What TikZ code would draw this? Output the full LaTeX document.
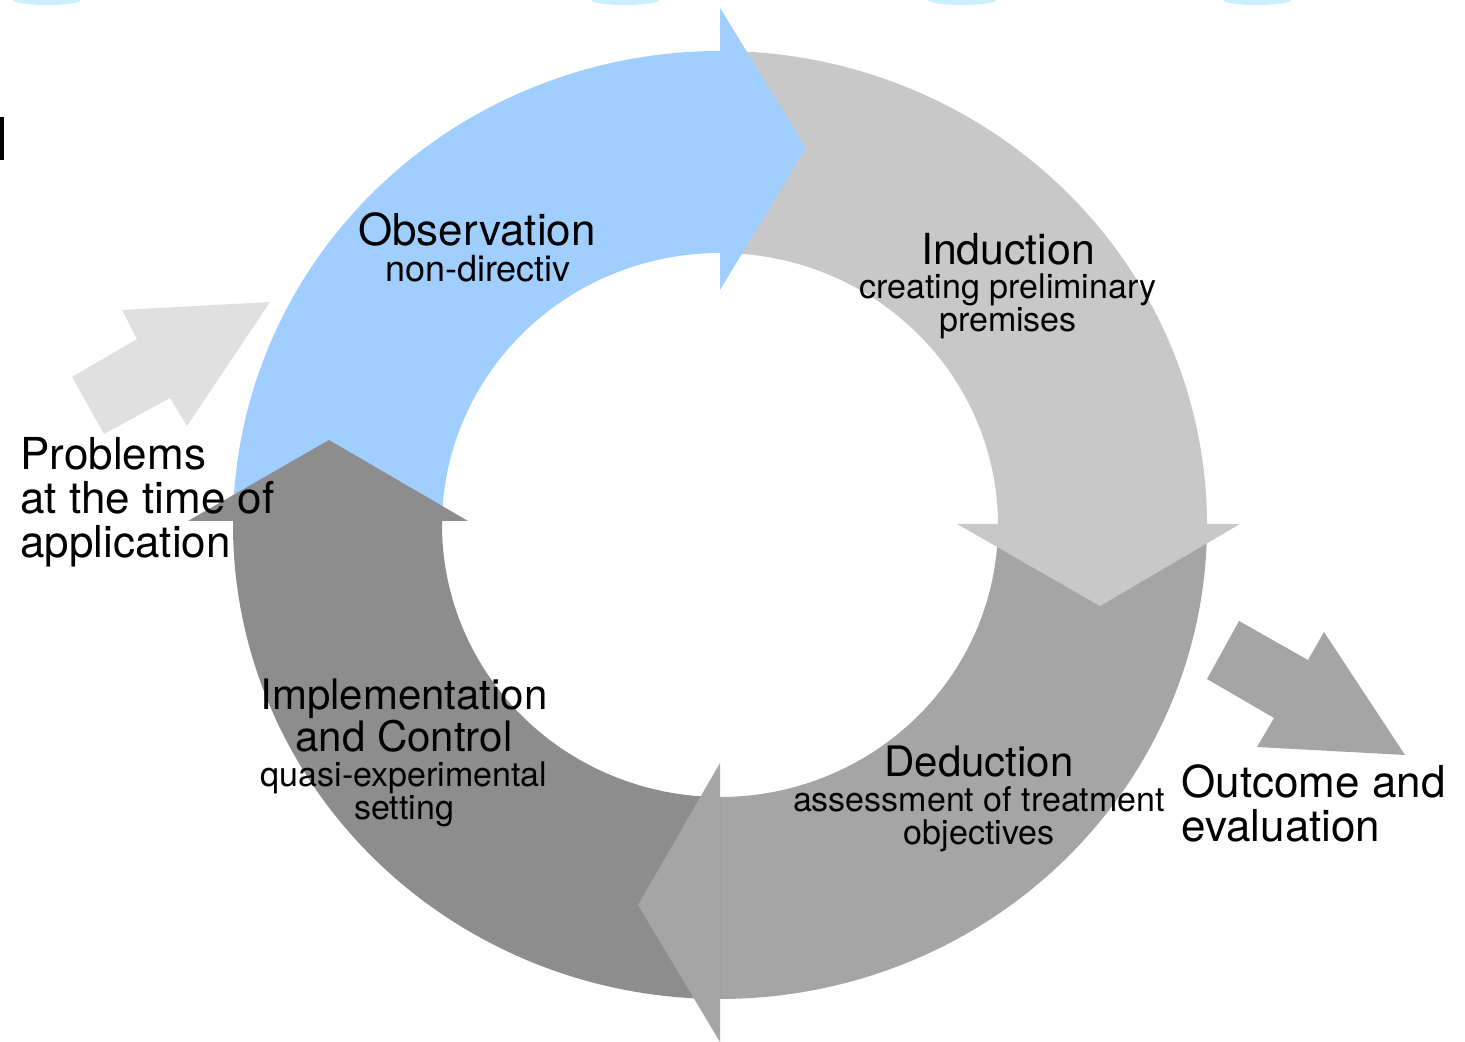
\documentclass[tikz,border=0pt]{standalone}
\usepackage{fontspec}
\setmainfont{TeX Gyre Heros}
\usetikzlibrary{calc}
\definecolor{obsblue}{HTML}{A0CFFF}
\definecolor{indgray}{HTML}{C8C8C8}
\definecolor{dedgray}{HTML}{A5A5A5}
\definecolor{impgray}{HTML}{8D8D8D}
\definecolor{probgray}{HTML}{E0E0E0}
\tikzset{
    title/.style={font=\fontsize{21}{21}\selectfont, anchor=base, inner sep=0pt},
    sub/.style={font=\fontsize{17}{16.5}\selectfont, anchor=base, inner sep=0pt},
    side/.style={font=\fontsize{22}{22}\selectfont, anchor=base west, align=left, inner sep=0pt},
}
\begin{document}
\begin{tikzpicture}[x=0.5pt, y=0.5pt]
    \useasboundingbox (0,0) rectangle (1465,1042);
    \coordinate (c) at (720,517);
    % scan marks along the edges
    \foreach \x in {47,625,962,1257} {
        \fill[cyan!20] (\x,1042) ellipse [x radius=34, y radius=5];
    }
    \fill (0,882) rectangle (4,925);
    % ring bodies
    \foreach \a/\col in {180/obsblue, 90/indgray, 0/dedgray, -90/impgray} {
        \fill[\col] ($(c)+(\a:487 and 474)$) arc[start angle=\a, delta angle=-92, x radius=487, y radius=474]
            -- ($(c)+(\a-92:278 and 272)$) arc[start angle=\a-92, delta angle=92, x radius=278, y radius=272] -- cycle;
    }
    % heads
    \fill[obsblue] (720,1034) -- (806,894) -- (720,752) -- cycle;
    \fill[indgray] (957,518) -- (1100,436) -- (1240,518) -- cycle;
    \fill[dedgray] (720,279) -- (638,137) -- (720,0) -- cycle;
    \fill[impgray] (188,521) -- (329,602) -- (468,521) -- cycle;
    % in and out
    \fill[probgray] (72,665) -- (104,608) -- (170,644) -- (187,616) -- (270,740) -- (122,732) -- (137,703) -- cycle;
    \fill[dedgray] (1239,421) -- (1207,363) -- (1274,324) -- (1257,295) -- (1405,287) -- (1324,410) -- (1308,382) -- cycle;
    % labels (base = last line)
    \node[title, font=\fontsize{22}{22}\selectfont] (obs) at (477,796) {Observation};
    \node[sub, font=\fontsize{18}{18}\selectfont] (obssub) at (478,760) {non-directiv};
    \node[title, font=\fontsize{21.4}{21}\selectfont] (ind) at (1008,777) {Induction};
    \node[sub, align=center] (indsub) at (1008,710) {creating preliminary\\premises};
    \node[title, align=center] (imp) at (404,290) {Implementation\\and Control};
    \node[sub, align=center] (impsub) at (404,222) {quasi-experimental\\setting};
    \node[title] (ded) at (979,265) {Deduction};
    \node[sub, align=center] (dedsub) at (979,197) {assessment of treatment\\objectives};
    \node[side] (prob) at (20,484) {Problems\\at the time of\\application};
    \node[side] (out) at (1181,200) {Outcome and\\evaluation};
\end{tikzpicture}
\end{document}
